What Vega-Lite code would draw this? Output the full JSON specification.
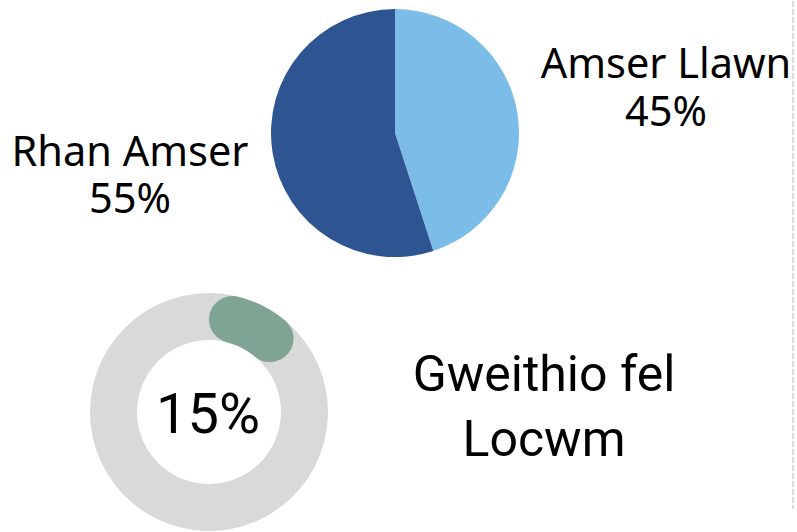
{
  "$schema": "https://vega.github.io/schema/vega-lite/v6.json",
  "padding": 0,
  "background": "white",
  "spacing": 0,
  "config": {"view": {"stroke": null}, "concat": {"spacing": 0}},
  "datasets": {
    "work": [
      {"category": "Amser Llawn", "share": 0.45},
      {"category": "Rhan Amser", "share": 0.55}
    ],
    "locum": [
      {"group": "Gweithio fel Locwm", "share": 0.15},
      {"group": "Eraill", "share": 0.85}
    ]
  },
  "hconcat": [
    {
      "spacing": 0,
      "vconcat": [
        {
          "spacing": 0,
          "bounds": "flush",
          "hconcat": [
            {
              "width": 260, "height": 264,
              "data": {"name": "work"},
              "transform": [{"filter": "datum.category === 'Rhan Amser'"}],
              "layer": [
                {"mark": {"type": "text", "font": "Noto Sans", "fontSize": 41.5, "baseline": "alphabetic", "align": "center", "dy": 33, "color": "#000000"},
                 "encoding": {"text": {"field": "category"}}},
                {"mark": {"type": "text", "font": "Noto Sans", "fontSize": 41.5, "baseline": "alphabetic", "align": "center", "dy": 80, "color": "#000000"},
                 "encoding": {"text": {"field": "share", "format": ".0%"}}}
              ]
            },
            {
              "width": 270, "height": 264,
              "data": {"name": "work"},
              "mark": {"type": "arc", "outerRadius": 124},
              "encoding": {
                "theta": {"field": "share", "type": "quantitative", "stack": true},
                "order": {"field": "category", "sort": "ascending"},
                "color": {"field": "category", "type": "nominal", "legend": null,
                  "scale": {"domain": ["Amser Llawn", "Rhan Amser"], "range": ["#7BBDE8", "#2E5591"]}}
              }
            },
            {
              "width": 262, "height": 264,
              "data": {"name": "work"},
              "transform": [{"filter": "datum.category === 'Amser Llawn'"}],
              "layer": [
                {"mark": {"type": "text", "font": "Noto Sans", "fontSize": 41.5, "baseline": "alphabetic", "align": "center", "dx": 5, "dy": -55, "color": "#000000"},
                 "encoding": {"text": {"field": "category"}}},
                {"mark": {"type": "text", "font": "Noto Sans", "fontSize": 41.5, "baseline": "alphabetic", "align": "center", "dx": 5, "dy": -7, "color": "#000000"},
                 "encoding": {"text": {"field": "share", "format": ".0%"}}}
              ]
            }
          ]
        },
        {
          "spacing": 0,
          "bounds": "flush",
          "hconcat": [
            {
              "width": 418, "height": 294,
              "data": {"name": "locum"},
              "layer": [
                {
                  "mark": {"type": "arc", "outerRadius": 119, "innerRadius": 72, "color": "#D9D9D9"},
                  "encoding": {
                    "theta": {"field": "share", "type": "quantitative", "stack": true, "scale": {"domain": [0, 1]}}
                  }
                },
                {
                  "transform": [{"filter": "datum.group === 'Gweithio fel Locwm'"}],
                  "mark": {"type": "arc", "outerRadius": 119, "innerRadius": 72, "cornerRadius": 30, "color": "#7FA493"},
                  "encoding": {
                    "theta": {"field": "share", "type": "quantitative", "stack": true, "scale": {"domain": [0, 1]}}
                  }
                },
                {
                  "transform": [{"filter": "datum.group === 'Gweithio fel Locwm'"}],
                  "mark": {"type": "text", "font": "Roboto", "fontSize": 56, "baseline": "alphabetic", "align": "center", "dx": -1, "dy": 21, "color": "#000000"},
                  "encoding": {"text": {"field": "share", "format": ".0%"}}
                }
              ]
            },
            {
              "width": 252, "height": 294,
              "data": {"name": "locum"},
              "transform": [{"filter": "datum.group === 'Gweithio fel Locwm'"}],
              "layer": [
                {"mark": {"type": "text", "font": "Roboto", "fontSize": 50, "baseline": "alphabetic", "align": "center", "dx": 0, "dy": -21, "color": "#000000", "text": "Gweithio fel"},
                 "encoding": {}},
                {"mark": {"type": "text", "font": "Roboto", "fontSize": 50, "baseline": "alphabetic", "align": "center", "dx": 0, "dy": 44, "color": "#000000", "text": "Locwm"},
                 "encoding": {}}
              ]
            }
          ]
        }
      ]
    },
    {
      "width": 5, "height": 558,
      "data": {"values": [{}]},
      "mark": {"type": "rule", "color": "#CFCFCF", "strokeWidth": 1.5, "strokeDash": [6, 2]},
      "encoding": {"x": {"value": 1}, "y": {"value": 0}, "y2": {"value": 508}}
    }
  ]
}
